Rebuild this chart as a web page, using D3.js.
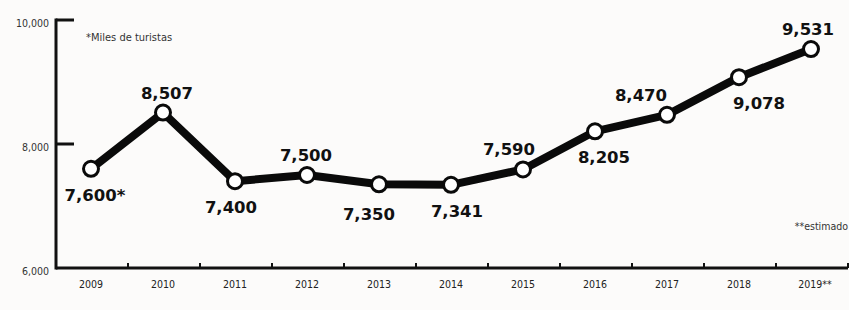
<!DOCTYPE html>
<html>
<head>
<meta charset="utf-8">
<title>turistas</title>
<script src="https://cdn.jsdelivr.net/npm/d3@7/dist/d3.min.js"></script>
<style>
  body { margin: 0; background: #fcfbfa; }
  svg { display: block; }
</style>
</head>
<body>
<script>
// datos: miles de turistas
var years = ["2009", "2010", "2011", "2012", "2013", "2014", "2015", "2016", "2017", "2018", "2019"];
var yearLabels = ["2009", "2010", "2011", "2012", "2013", "2014", "2015", "2016", "2017", "2018", "2019**"];
var values = [7600, 8507, 7400, 7500, 7350, 7341, 7590, 8205, 8470, 9078, 9531];
var valueLabels = ["7,600*", "8,507", "7,400", "7,500", "7,350", "7,341", "7,590", "8,205", "8,470", "9,078", "9,531"];
var labelSide = ["below", "above", "below", "above", "below", "below", "above", "below", "above", "below", "above"];
var yTicks = [6000, 8000, 10000];
var yTickLabels = ["6,000", "8,000", "10,000"];

var width = 849, height = 310;
var svg = d3.select("body").append("svg").attr("width", width).attr("height", height);

var x = d3.scaleBand().domain(years).range([56, 848]);
var y = d3.scaleLinear().domain([6000, 10000]).range([268, 20]);
var cx = function(d, i) { return x(years[i]) + x.bandwidth() / 2 - 1; };

// eje y
svg.append("line")
   .attr("x1", 56).attr("x2", 56)
   .attr("y1", y(10000) - 1.5).attr("y2", y(6000) + 1.5)
   .attr("stroke", "#111").attr("stroke-width", 3);

svg.selectAll(".ytick")
   .data(yTicks.slice(1))
   .enter().append("line")
   .attr("x1", 56).attr("x2", 74)
   .attr("y1", function(d) { return y(d); })
   .attr("y2", function(d) { return y(d); })
   .attr("stroke", "#111").attr("stroke-width", 3);

svg.selectAll(".ylab")
   .data(yTicks)
   .enter().append("text")
   .attr("x", 49)
   .attr("y", function(d) { return y(d) + 7; })
   .attr("text-anchor", "end")
   .style("font-family", "'DejaVu Sans Condensed', 'DejaVu Sans'")
   .style("font-size", "10.5px")
   .style("fill", "#333")
   .text(function(d, i) { return yTickLabels[i]; });

// eje x
svg.append("line")
   .attr("x1", 56).attr("x2", 848)
   .attr("y1", y(6000)).attr("y2", y(6000))
   .attr("stroke", "#111").attr("stroke-width", 3);

svg.selectAll(".xtick")
   .data(years.slice(1).concat(["end"]))
   .enter().append("line")
   .attr("x1", function(d, i) { return x(years[0]) + x.step() * (i + 1); })
   .attr("x2", function(d, i) { return x(years[0]) + x.step() * (i + 1); })
   .attr("y1", y(6000)).attr("y2", y(6000) - 5)
   .attr("stroke", "#111").attr("stroke-width", 2);

svg.selectAll(".xlab")
   .data(years)
   .enter().append("text")
   .attr("x", function(d, i) { return cx(d, i) + (i == 10 ? 4 : 0); })
   .attr("y", 288)
   .attr("text-anchor", "middle")
   .style("font-family", "'DejaVu Sans Condensed', 'DejaVu Sans'")
   .style("font-size", "10.5px")
   .style("fill", "#222")
   .text(function(d, i) { return yearLabels[i]; });

// linea
var line = d3.line()
   .x(function(d, i) { return cx(d, i); })
   .y(function(d) { return y(d); });

svg.append("path")
   .datum(values)
   .attr("d", line)
   .attr("fill", "none")
   .attr("stroke", "#0a0a0a")
   .attr("stroke-width", 8)
   .attr("stroke-linejoin", "round");

svg.selectAll("circle")
   .data(values)
   .enter().append("circle")
   .attr("cx", cx)
   .attr("cy", function(d) { return y(d); })
   .attr("r", 7.5)
   .attr("fill", "#fff")
   .attr("stroke", "#0a0a0a")
   .attr("stroke-width", 3);

// etiquetas de valores
var shiftX = [4, 4, -4, -1, -10, 6, -14, 9, -26, 20, -3];
svg.selectAll(".vlab")
   .data(values)
   .enter().append("text")
   .attr("x", function(d, i) { return cx(d, i) + shiftX[i]; })
   .attr("y", function(d, i) { return y(d) + (labelSide[i] == "above" ? -14 : 32) + (i == 4 ? 4 : 0); })
   .attr("text-anchor", "middle")
   .style("font-family", "'DejaVu Sans', sans-serif")
   .style("font-weight", "bold")
   .style("font-size", "16.5px")
   .style("fill", "#111")
   .text(function(d, i) { return valueLabels[i]; });

// notas
svg.append("text")
   .attr("x", 86).attr("y", 41)
   .style("font-family", "'DejaVu Sans Condensed', 'DejaVu Sans'")
   .style("font-size", "11px")
   .style("fill", "#333")
   .text("*Miles de turistas");

svg.append("text")
   .attr("x", 848).attr("y", 230)
   .attr("text-anchor", "end")
   .style("font-family", "'DejaVu Sans Condensed', 'DejaVu Sans'")
   .style("font-size", "10.5px")
   .style("fill", "#333")
   .text("**estimado");
</script>
</body>
</html>
